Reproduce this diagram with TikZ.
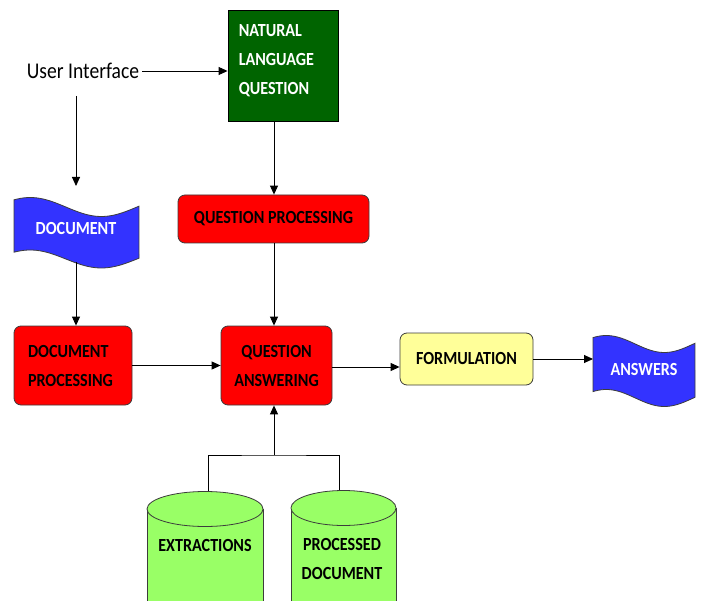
\documentclass[tikz,border=0pt]{standalone}
\usepackage{fontspec}
\setmainfont{Carlito}[FakeStretch=0.87]
\usetikzlibrary{arrows.meta,calc}
\definecolor{nlqgreen}{RGB}{0,100,0}
\definecolor{qared}{RGB}{255,0,0}
\definecolor{tapeblue}{RGB}{51,51,255}
\definecolor{formyellow}{RGB}{255,255,153}
\definecolor{cylgreen}{RGB}{153,255,102}
\definecolor{edge}{RGB}{60,60,60}
\newcommand\tapeshape[6]{% x0 width ytopmid atop ybotmid abot
  \filldraw[tapestyle]
    plot[domain=0:1,samples=40,smooth] ({#1+\x*#2},{#3-#4*sin(316*\x+49)})
    -- plot[domain=1:0,samples=40,smooth] ({#1+\x*#2},{#5-#6*sin(316*\x+49)})
    -- cycle;}
\newcommand\dbcylinder[4]{% x0 x1 ytopcenter ry
  \filldraw[cylstyle] (#1,#3) -- (#1,650) -- (#2,650) -- (#2,#3);
  \filldraw[cylstyle] ({(#1+#2)/2},#3) ellipse ({(#2-#1)/2} and #4);}
\begin{document}
\begin{tikzpicture}[x=1pt,y=-1pt,
  arr/.style={-{Triangle[length=9pt,width=8pt]}, line width=0.9pt},
  plain/.style={line width=0.9pt},
  bold/.style={font=\fontsize{18.5}{29}\selectfont\bfseries},
  nlqbox/.style={draw=black, fill=nlqgreen, line width=0.9pt, inner sep=0pt},
  redbox/.style={draw=edge, fill=qared, rounded corners=7pt, line width=0.8pt, inner sep=0pt, bold},
  yellowbox/.style={draw=edge, fill=formyellow, rounded corners=7pt, line width=0.8pt, inner sep=0pt, bold},
  tapestyle/.style={draw=edge, fill=tapeblue, line width=0.8pt},
  cylstyle/.style={draw=edge, fill=cylgreen, line width=0.8pt},
  whitetext/.style={bold, text=white, inner sep=0pt},
  blacktext/.style={bold, text=black, inner sep=0pt, align=center},
]
\useasboundingbox (0,0) rectangle (703,601);
\clip (0,0) rectangle (703,601);
\fill[white] (0,0) rectangle (703,601);

% coordinates
\coordinate (axis) at (274,0);
\coordinate (uidown) at (76,96);
\coordinate (docin) at (76,186);
\coordinate (docout) at (76,262);
\coordinate (ansin) at (593,0);
\coordinate (junc) at (274,455);
\coordinate (exttop) at (208,495);
\coordinate (pdtop) at (339,495);

% connectors to cylinders (drawn first)
\draw[plain] (exttop) |- (junc) -| (pdtop);

% cylinders
\dbcylinder{147}{263}{509}{17.5}
\dbcylinder{291}{396}{508}{17.5}
\node[blacktext] (ext) at (205,545) {EXTRACTIONS};
\node[blacktext] (pdoc) at (342,559) {PROCESSED\\DOCUMENT};

% tapes
\tapeshape{14}{125}{207}{9.5}{259}{9}
\node[whitetext] (doc) at (76,229) {DOCUMENT};
\tapeshape{593}{102}{344}{8.5}{398}{8.5}
\node[whitetext] (ans) at (644,369) {ANSWERS};

% text and boxes
\node[font=\fontsize{22.5}{27}\selectfont, inner sep=3pt] (ui) at (83,71) {User Interface};
\node[nlqbox, minimum width=110, minimum height=111] (nlq) at (283,66) {};
\node[whitetext, align=left, anchor=west] (nlqt) at ([xshift=11pt,yshift=5pt]nlq.west) {NATURAL\\LANGUAGE\\QUESTION};
\node[redbox, minimum width=191, minimum height=48] (qp) at (273.5,219) {QUESTION PROCESSING};
\node[redbox, minimum width=111, minimum height=79, align=center] (qa) at (276.5,365.5) {QUESTION\\ANSWERING};
\node[redbox, minimum width=118, minimum height=79, align=left, text width=90] (dp) at (73,365.5) {DOCUMENT\\PROCESSING};
\node[yellowbox, minimum width=133, minimum height=52] (form) at (466.5,359) {FORMULATION};

% connectors
\draw[arr] (ui.east) -- (ui.east -| nlq.west);
\draw[arr] (uidown) -- (docin);
\draw[arr] (docout) -- (docout |- dp.north);
\draw[arr] (nlq.south -| axis) -- (qp.north -| axis);
\draw[arr] (qp.south -| axis) -- (qa.north -| axis);
\draw[arr] (dp.east) -- (qa.west);
\draw[arr] ($(qa.east)+(0,1.5)$) -- ($(qa.east -| form.west)+(0,1.5)$);
\draw[arr] (form.east) -- (form.east -| ansin);
\draw[arr] (junc) -- (junc |- qa.south);
\end{tikzpicture}
\end{document}
